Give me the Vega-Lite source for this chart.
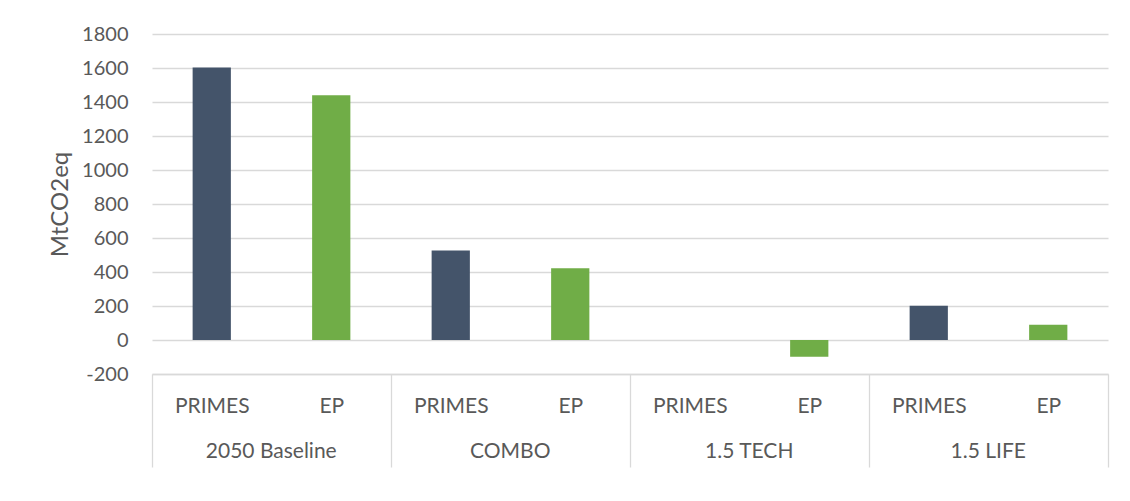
{
  "$schema": "https://vega.github.io/schema/vega-lite/v6.json",
  "autosize": {"type": "none"},
  "padding": {"left": 152, "top": 34, "right": 22, "bottom": 127},
  "width": 956,
  "height": 340,
  "background": "white",
  "config": {
    "view": {"stroke": null},
    "font": "Lato",
    "axis": {"labelFont": "Lato", "titleFont": "Lato", "labelColor": "#595959", "titleColor": "#595959"},
    "axisY": {"labelOverlap": false}
  },
  "data": {
    "values": [
      {"group": "2050 Baseline", "source": "PRIMES", "value": 1603},
      {"group": "2050 Baseline", "source": "EP", "value": 1439},
      {"group": "COMBO", "source": "PRIMES", "value": 527},
      {"group": "COMBO", "source": "EP", "value": 422},
      {"group": "1.5 TECH", "source": "PRIMES", "value": 0},
      {"group": "1.5 TECH", "source": "EP", "value": -98},
      {"group": "1.5 LIFE", "source": "PRIMES", "value": 202},
      {"group": "1.5 LIFE", "source": "EP", "value": 90}
    ]
  },
  "transform": [{"calculate": "datum.group + '|' + datum.source", "as": "key"}],
  "resolve": {"axis": {"x": "independent"}},
  "encoding": {
    "y": {
      "field": "value",
      "type": "quantitative",
      "scale": {"domain": [-200, 1800], "nice": false, "zero": false},
      "axis": {
        "title": "MtCO2eq",
        "titleFontSize": 24,
        "titleFontWeight": "normal",
        "titlePadding": 9,
        "values": [-200, 0, 200, 400, 600, 800, 1000, 1200, 1400, 1600, 1800],
        "format": "d",
        "labelOverlap": false,
        "labelExpr": "replace(datum.label, '−', '-')",
        "domain": false,
        "ticks": false,
        "grid": true,
        "gridColor": "#d9d9d9",
        "gridWidth": 1.3,
        "labelFontSize": 20,
        "labelPadding": 24
      }
    }
  },
  "layer": [
    {
      "mark": {"type": "bar", "width": {"band": 0.32}},
      "encoding": {
        "x": {
          "field": "key",
          "type": "nominal",
          "sort": null,
          "scale": {"paddingInner": 0, "paddingOuter": 0},
          "axis": {
            "orient": "bottom",
            "title": null,
            "domain": true,
            "domainColor": "#d9d9d9",
            "domainWidth": 1.3,
            "ticks": true,
            "tickBand": "extent",
            "tickSize": 93,
            "tickWidth": 1.3,
            "tickColor": {"condition": {"test": "datum.index < 0 || indexof(datum.value, '|EP') >= 0", "value": "#d9d9d9"}, "value": "transparent"},
            "labelExpr": "split(datum.value, '|')[1]",
            "labelAngle": 0,
            "labelFontSize": 21,
            "labelPadding": -72,
            "grid": false
          }
        },
        "color": {
          "field": "source",
          "type": "nominal",
          "scale": {"domain": ["PRIMES", "EP"], "range": ["#44546a", "#70ad47"]},
          "legend": null
        }
      }
    },
    {
      "mark": {"type": "bar", "opacity": 0},
      "encoding": {
        "x": {
          "field": "key",
          "type": "nominal",
          "sort": null,
          "axis": {
            "orient": "bottom",
            "title": null,
            "domain": false,
            "ticks": false,
            "grid": false,
            "values": ["2050 Baseline|EP", "COMBO|EP", "1.5 TECH|EP", "1.5 LIFE|EP"],
            "labelExpr": "split(datum.value, '|')[0]",
            "labelAngle": 0,
            "labelFontSize": 21,
            "labelOffset": -60,
            "labelPadding": 66
          }
        }
      }
    }
  ]
}
